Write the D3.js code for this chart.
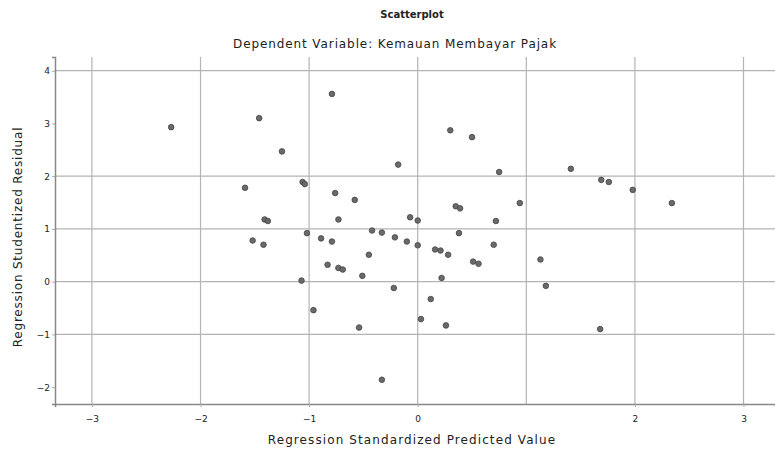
<!DOCTYPE html>
<html lang="id">
<head>
  <meta charset="UTF-8">
  <title>Scatterplot</title>
  <script src="https://d3js.org/d3.v7.min.js"></script>
  <style>
    body { margin: 0; background: #fff; }
    text { font-family: "DejaVu Sans", sans-serif; fill: #222; }
  </style>
</head>
<body>
<div class="canvas"></div>
<script>
  // predicted (x) vs studentized residual (y)
  const predicted = [-2.27, -1.46, -0.79, -1.25, -0.18, 0.30, 0.50, 0.75, 1.41, 1.69, 1.76, 1.98, 2.34, 0.94,
    -1.59, -1.06, -1.04, -0.76, -0.58, 0.35, 0.39, -1.41, -1.38, -0.73, -0.07, 0.00, 0.72,
    -1.02, -0.89, -0.79, -1.52, -1.42, -0.42, -0.33, -0.21, -0.10, 0.00, 0.38, 0.16, 0.21, 0.28, 0.70,
    -0.45, -0.83, -0.73, -0.69, -0.51, 0.22, 0.51, 0.56, -1.07, -0.22, 0.12, -0.96, 0.03, -0.54, 0.26,
    -0.33, 1.13, 1.18, 1.68]
  const residual = [2.93, 3.10, 3.56, 2.47, 2.22, 2.87, 2.74, 2.08, 2.14, 1.93, 1.89, 1.74, 1.49, 1.49,
    1.78, 1.89, 1.85, 1.68, 1.55, 1.43, 1.39, 1.18, 1.15, 1.18, 1.22, 1.16, 1.15,
    0.92, 0.82, 0.76, 0.78, 0.70, 0.97, 0.93, 0.84, 0.76, 0.69, 0.92, 0.61, 0.59, 0.51, 0.70,
    0.51, 0.32, 0.26, 0.23, 0.11, 0.07, 0.38, 0.34, 0.02, -0.12, -0.33, -0.54, -0.71, -0.87, -0.83,
    -1.86, 0.42, -0.08, -0.90]

  const xTicks = [-3, -2, -1, 0, 2, 3]
  const xGrid = [-3, -2, -1, 0, 1, 2, 3]
  const yTicks = [-2, -1, 0, 1, 2, 3, 4]
  const yGrid = [-1, 0, 1, 2, 4]

  const W = 775, H = 451
  const plotL = 55, plotR = 775, plotT = 57, plotB = 404

  const svg = d3.select('.canvas')
    .append('svg')
    .attr('width', W)
    .attr('height', H)

  svg.append('rect').attr('width', W).attr('height', H).attr('fill', '#fff')

  const x = d3.scaleLinear().domain([-3.34, 3.29]).range([plotL, plotR])
  const y = d3.scaleLinear().domain([-2.32, 4.26]).range([plotB, plotT])

  // grid
  svg.append('g').selectAll('line')
    .data(xGrid).enter().append('line')
    .attr('x1', d => x(d)).attr('x2', d => x(d))
    .attr('y1', plotT).attr('y2', plotB)
    .attr('stroke', '#b4b4b4').attr('stroke-width', 1.2)
  svg.append('g').selectAll('line')
    .data(yGrid).enter().append('line')
    .attr('x1', plotL).attr('x2', plotR)
    .attr('y1', d => y(d)).attr('y2', d => y(d))
    .attr('stroke', '#b4b4b4').attr('stroke-width', 1.2)

  // axes
  const xAxis = svg.append('g')
    .attr('transform', `translate(0,${plotB})`)
    .call(d3.axisBottom(x).tickValues(xTicks).tickSize(3).tickFormat(d3.format('d')))
  const yAxis = svg.append('g')
    .attr('transform', `translate(${plotL},0)`)
    .call(d3.axisLeft(y).tickValues(yTicks).tickSize(3).tickFormat(d3.format('d')))

  ;[xAxis, yAxis].forEach(a => {
    a.select('.domain').attr('stroke', '#888').attr('stroke-width', 1.5)
    a.selectAll('.tick line').attr('stroke', '#aaa')
    a.selectAll('.tick text').attr('font-size', 9).attr('fill', '#333')
      .style('font-family', '"DejaVu Sans", sans-serif')
  })
  xAxis.selectAll('.tick text').attr('dy', '1.3em')
  yAxis.selectAll('.tick text').attr('dx', '0.1em')

  // points
  const pts = predicted.map((p, i) => [p, residual[i]])
  svg.append('g').selectAll('circle')
    .data(pts).enter().append('circle')
    .attr('cx', d => x(d[0]))
    .attr('cy', d => y(d[1]))
    .attr('r', 2.8)
    .attr('fill', '#6a6a6a')
    .attr('stroke', '#444')
    .attr('stroke-width', 0.8)

  // titles
  svg.append('text')
    .attr('x', 412).attr('y', 18)
    .attr('text-anchor', 'middle')
    .attr('font-size', 10).attr('font-weight', 'bold')
    .text('Scatterplot')
  svg.append('text')
    .attr('x', 395).attr('y', 48)
    .attr('text-anchor', 'middle')
    .attr('font-size', 12).attr('letter-spacing', 0.9)
    .text('Dependent Variable: Kemauan Membayar Pajak')
  svg.append('text')
    .attr('x', 412).attr('y', 444)
    .attr('text-anchor', 'middle')
    .attr('font-size', 12).attr('letter-spacing', 1.1)
    .text('Regression Standardized Predicted Value')
  svg.append('text')
    .attr('transform', 'translate(22,237) rotate(-90)')
    .attr('text-anchor', 'middle')
    .attr('font-size', 12).attr('letter-spacing', 0.8)
    .text('Regression Studentized Residual')
</script>
</body>
</html>
